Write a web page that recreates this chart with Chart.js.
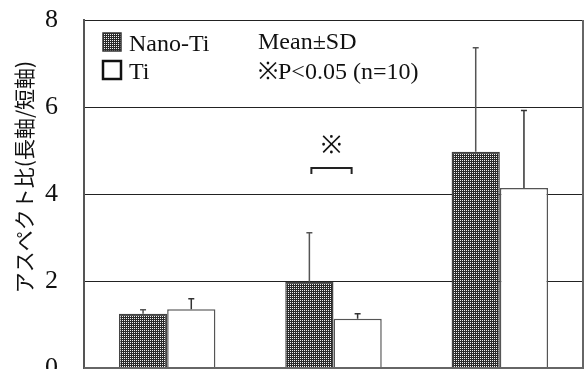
<!DOCTYPE html>
<html>
<head>
<meta charset="utf-8">
<script src="https://cdn.jsdelivr.net/npm/chart.js@4.4.1/dist/chart.umd.min.js"></script>
<style>
html,body{margin:0;padding:0;background:#fff;overflow:hidden;}
#wrap{width:587px;height:400px;}
</style>
</head>
<body>
<div id="wrap"><canvas id="c" width="587" height="400"></canvas></div>
<script>
const categories = ["A", "B", "C"];
const nanoTiMean = [1.25, 1.98, 4.97];
const nanoTiSD   = [0.09, 1.13, 2.39];
const tiMean     = [1.35, 1.13, 4.14];
const tiSD       = [0.24, 0.12, 1.78];
const yTicks     = [0, 2, 4, 6, 8];
const yTitle     = "アスペクト比(長軸/短軸)";
const legendLabels = ["Nano-Ti", "Ti"];
const noteLines  = ["Mean±SD", "※P<0.05 (n=10)"];
const sigMark    = "※";

function makePattern() {
  const p = document.createElement('canvas');
  p.width = 2; p.height = 2;
  const g = p.getContext('2d');
  g.fillStyle = '#2a2a2a'; g.fillRect(0,0,2,2);
  g.fillStyle = '#f2f2f2'; g.fillRect(0,0,1,1);
  return document.getElementById('c').getContext('2d').createPattern(p, 'repeat');
}
const pattern = makePattern();

const errorBars = {
  id: 'errorBars',
  afterDatasetsDraw(chart) {
    const ctx = chart.ctx, ys = chart.scales.y;
    const sds = [nanoTiSD, tiSD];
    const cols = ['#555', '#333'];
    chart.data.datasets.forEach((ds, di) => {
      const meta = chart.getDatasetMeta(di);
      meta.data.forEach((bar, i) => {
        const top = ys.getPixelForValue(ds.data[i] + sds[di][i]);
        ctx.save();
        ctx.strokeStyle = cols[di];
        ctx.lineWidth = 1.5;
        ctx.beginPath();
        ctx.moveTo(bar.x, bar.y);
        ctx.lineTo(bar.x, top);
        ctx.moveTo(bar.x - 3, top);
        ctx.lineTo(bar.x + 3, top);
        ctx.stroke();
        ctx.restore();
      });
    });
  }
};

const decor = {
  id: 'decor',
  afterDraw(chart) {
    const ctx = chart.ctx, a = chart.chartArea, ys = chart.scales.y;
    ctx.save();
    ctx.strokeStyle = '#666';
    ctx.lineWidth = 2;
    ctx.beginPath();
    ctx.moveTo(a.right, a.top);
    ctx.lineTo(a.right, a.bottom);
    ctx.lineTo(a.left, a.bottom);
    ctx.stroke();
    ctx.fillStyle = '#111';
    ctx.font = '21px "Noto Sans CJK JP"';
    ctx.textAlign = 'center';
    ctx.textBaseline = 'middle';
    ctx.translate(24, 177);
    ctx.rotate(-Math.PI/2);
    ctx.fillText(yTitle, 0, 0);
    ctx.restore();

    ctx.save();
    const lx = a.left + 19;
    ctx.fillStyle = pattern;
    ctx.fillRect(lx, 33, 18, 18);
    ctx.strokeStyle = '#333';
    ctx.lineWidth = 1.5;
    ctx.strokeRect(lx, 33, 18, 18);
    ctx.fillStyle = '#fff';
    ctx.fillRect(lx, 61, 18, 18);
    ctx.strokeStyle = '#111';
    ctx.lineWidth = 2.5;
    ctx.strokeRect(lx, 61, 18, 18);
    ctx.fillStyle = '#111';
    ctx.font = '24px "Liberation Serif"';
    ctx.textAlign = 'left';
    ctx.textBaseline = 'alphabetic';
    ctx.fillText(legendLabels[0], lx + 26, 51);
    ctx.fillText(legendLabels[1], lx + 26, 79);
    ctx.fillText(noteLines[0], a.left + 174, 49);
    ctx.fillText(noteLines[1], a.left + 174, 79);
    const m0 = chart.getDatasetMeta(0).data[1];
    const m1 = chart.getDatasetMeta(1).data[1];
    const x1 = m0.x + 2, x2 = m1.x - 6;
    const yb = ys.getPixelForValue(4.6), yt = ys.getPixelForValue(4.46);
    ctx.strokeStyle = '#222';
    ctx.lineWidth = 2;
    ctx.beginPath();
    ctx.moveTo(x1, yt); ctx.lineTo(x1, yb); ctx.lineTo(x2, yb); ctx.lineTo(x2, yt);
    ctx.stroke();
    ctx.font = '25px "Liberation Serif"';
    ctx.textAlign = 'center';
    ctx.textBaseline = 'middle';
    ctx.fillText(sigMark, (x1 + x2) / 2, ys.getPixelForValue(5.1));
    ctx.restore();
  }
};

const chart = new Chart(document.getElementById('c'), {
  type: 'bar',
  data: {
    labels: categories,
    datasets: [
      { label: legendLabels[0], data: nanoTiMean, backgroundColor: pattern, borderColor: '#444', borderWidth: 1.5,
        categoryPercentage: 0.58, barPercentage: 1.0 },
      { label: legendLabels[1], data: tiMean, backgroundColor: '#ffffff', borderColor: '#555', borderWidth: 1.5,
        categoryPercentage: 0.58, barPercentage: 1.0 }
    ]
  },
  options: {
    responsive: false,
    animation: false,
    layout: { padding: { top: 20, right: 4, bottom: 32, left: 0 } },
    plugins: { legend: { display: false }, tooltip: { enabled: false }, title: { display: false } },
    scales: {
      x: { display: false },
      y: {
        min: 0, max: 8,
        afterBuildTicks(scale) { scale.ticks = yTicks.map(v => ({ value: v })); },
        afterFit(scale) { scale.width = 84; scale.paddingTop = 0; scale.paddingBottom = 0; },
        ticks: { color: '#111', font: { family: 'Liberation Serif', size: 26 }, padding: 26 },
        grid: { color: '#222', lineWidth: 1, drawTicks: false },
        border: { color: '#555', width: 2 }
      }
    }
  },
  plugins: [errorBars, decor]
});
// align the plot area with the reference frame (top 20, bottom 368, right 583)
for (let k = 0; k < 3; k++) {
  const a = chart.chartArea, p = chart.config.options.layout.padding;
  p.top += 20 - a.top;
  p.bottom += a.bottom - 368;
  p.right += a.right - 583;
  chart.update();
}
</script>
</body>
</html>
